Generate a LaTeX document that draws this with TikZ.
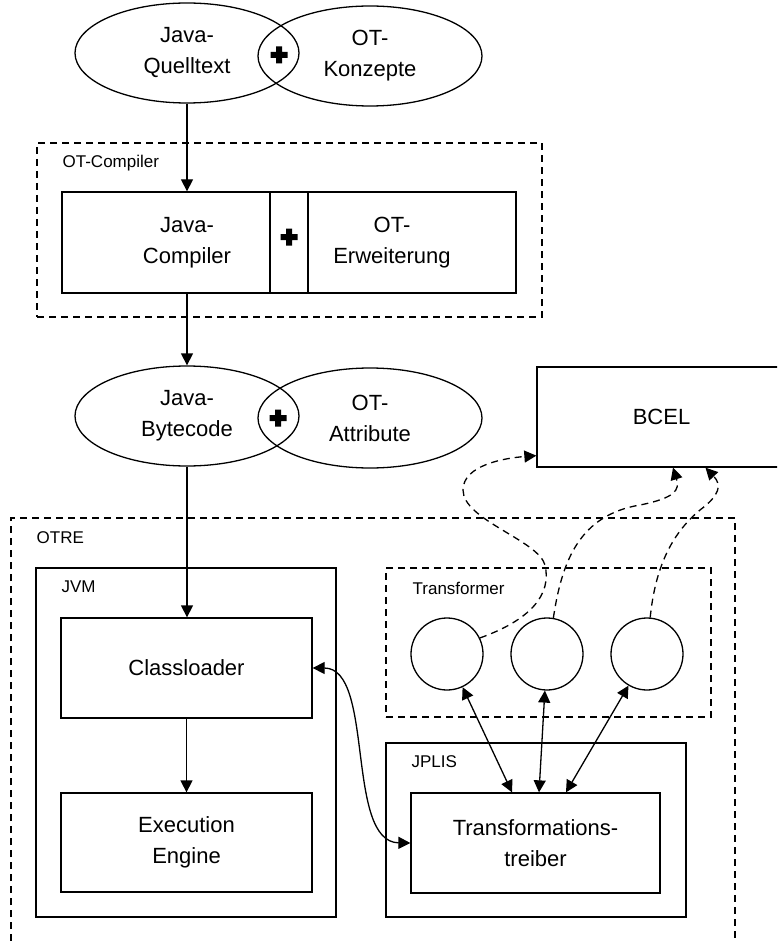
\documentclass[tikz,border=0pt]{standalone}
\usepackage{fontspec}
\setmainfont{Liberation Sans}
\usetikzlibrary{arrows.meta,calc,shapes.geometric,positioning}

\tikzset{
  box/.style={draw,rectangle,inner sep=0pt,align=center},
  oval/.style={draw,ellipse,minimum width=112pt,minimum height=50pt,inner sep=0pt,align=center},
  frame/.style={draw,dash pattern=on 3.5pt off 2.5pt},
  trafo/.style={draw,circle,minimum size=36pt,inner sep=0pt},
  lbl/.style={font=\fontsize{8.5}{10}\selectfont,anchor=west,inner sep=0pt},
  txt/.style={align=center,inner sep=0pt},
  arr/.style={-{Triangle[length=6pt,width=6pt]}},
  darr/.style={{Triangle[length=6pt,width=6pt]}-{Triangle[length=6pt,width=6pt]}},
}
% bold plus between two parts
\newcommand\plussign[1]{%
  \fill ($(#1)+(-8.5,-3)$) -- ++(5.5,0) -- ++(0,-5.5) -- ++(6,0) -- ++(0,5.5)
     -- ++(5.5,0) -- ++(0,6) -- ++(-5.5,0) -- ++(0,5.5) -- ++(-6,0) -- ++(0,-5.5)
     -- ++(-5.5,0) -- cycle;}

\begin{document}
\begin{tikzpicture}[x=0.5pt,y=-0.5pt,line width=0.65pt,
  font=\fontsize{11}{15.5}\selectfont,line cap=butt,line join=miter]
\useasboundingbox (0,0) rectangle (777,941);
\clip (0,0) rectangle (777,941);

% sources
\node[oval] (qt) at (187,53) {Java-\\Quelltext};
\node[oval] (otk) at (370,56) {OT-\\Konzepte};
\coordinate (plusa) at (279,55);
\plussign{plusa}

% compiler
\node[box,frame,minimum width=252.5pt,minimum height=87pt] (ocomp) at (289.5,230) {};
\node[lbl] (ocompl) at (62,163) {OT-Compiler};
\node[box,minimum width=104pt,minimum height=50.5pt] (jcomp) at (166,242.5) {};
\node[box,minimum width=19pt,minimum height=50.5pt] (cplus) at (289,242.5) {};
\node[box,minimum width=104pt,minimum height=50.5pt] (otx) at (412,242.5) {};
\node[txt] (jcompt) at (187,243) {Java-\\Compiler};
\node[txt] (otxt) at (392,243) {OT-\\Erweiterung};
\coordinate (plusb) at (289,237);
\plussign{plusb}

% bytecode
\node[oval] (bc) at (187,416) {Java-\\Bytecode};
\node[oval] (oat) at (370,418) {OT-\\Attribute};
\coordinate (plusc) at (278,418);
\plussign{plusc}

\node[box,minimum width=124.5pt,minimum height=50pt] (bcel) at (661.5,417) {BCEL};

% runtime
\draw[frame] (11,941) |- (735,518) -- (735,941);
\node[lbl] (otrel) at (36,538) {OTRE};
\node[box,minimum width=150pt,minimum height=174.5pt] (jvm) at (186,742.5) {};
\node[lbl] (jvml) at (61,587) {JVM};
\node[box,minimum width=125.5pt,minimum height=50pt] (cl) at (186.5,668) {Classloader};
\node[box,minimum width=125.5pt,minimum height=49.5pt] (ee) at (186.5,842.5) {Execution\\Engine};

\node[box,frame,minimum width=162.5pt,minimum height=74.5pt] (trf) at (548.5,642.5) {};
\node[lbl] (trfl) at (412,588) {Transformer};
\node[trafo] (t1) at (447,654) {};
\node[trafo] (t2) at (547,654) {};
\node[trafo] (t3) at (647,654) {};

\node[box,minimum width=150pt,minimum height=87pt] (jplis) at (536,830) {};
\node[lbl] (jplisl) at (411,762) {JPLIS};
\node[box,minimum width=124.5pt,minimum height=50pt] (tt) at (535.5,843) {Transformations-\\treiber};

% connectors
\draw[arr] (qt.south) -- (qt.south |- jcomp.north);
\draw[arr] (jcomp.south -| qt.south) -- (bc.north);
\draw[arr] (bc.south) -- (bc.south |- cl.north);
\draw[arr] (cl.south) -- (ee.north);
\draw[darr] (cl.east) .. controls (375,668) and (345,842) .. (tt.west);
\draw[darr] (t1) -- ($(tt.north)+(-23.5,0)$);
\draw[darr] (t2) -- ($(tt.north)+(3.5,0)$);
\draw[darr] (t3) -- ($(tt.north)+(30.5,0)$);

% BCEL access
\draw[arr,dash pattern=on 3.5pt off 2.5pt] (t1.26) .. controls (530,620) and (552,595) .. (545,565)
   .. controls (538,540) and (463,520) .. (463,490)
   .. controls (463,465) and (505,458) .. ($(bcel.south west)+(0,-12)$);
\draw[arr,dash pattern=on 3.5pt off 2.5pt] (t2.80) .. controls (562,560) and (580,515) .. (640,505)
   .. controls (675,498) and (680,490) .. ($(bcel.south)+(11.5,0)$);
\draw[arr,dash pattern=on 3.5pt off 2.5pt] (t3.85) .. controls (655,570) and (670,535) .. (700,510)
   .. controls (720,495) and (722,485) .. ($(bcel.south)+(44,0)$);
\end{tikzpicture}
\end{document}
